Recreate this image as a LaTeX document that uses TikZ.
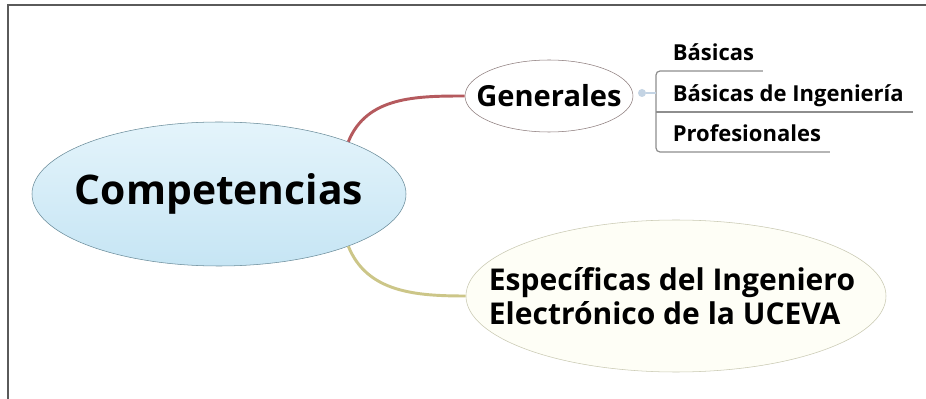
\documentclass[tikz,border=0pt]{standalone}
\usepackage{fontspec}
\setmainfont{Open Sans}
\usetikzlibrary{shapes.geometric}
\definecolor{compline}{HTML}{6A8C9A}
\definecolor{comptop}{HTML}{E4F4FB}
\definecolor{compbot}{HTML}{C6E5F4}
\definecolor{genline}{HTML}{8C7C7C}
\definecolor{espline}{HTML}{C9C9B2}
\definecolor{espfill}{HTML}{FEFEF6}
\definecolor{redline}{HTML}{B55A5E}
\definecolor{yelline}{HTML}{CCC688}
\definecolor{brkline}{HTML}{8E8E8E}
\definecolor{dotcol}{HTML}{C4D4E4}
\definecolor{framecol}{HTML}{5A5A5A}
\begin{document}
\begin{tikzpicture}[x=0.75pt,y=-0.75pt,
    bubble/.style={ellipse,draw,inner sep=0pt},
    txt/.style={font=\bfseries\fontsize{#1}{#1}\selectfont,inner sep=0pt},
    item/.style={font=\bfseries\fontsize{16.5}{18}\selectfont,anchor=south west,
      inner xsep=6.4pt,inner ysep=4.5pt,text height=12pt,text depth=3pt},
    bracket/.style={draw=brkline,line width=0.9pt}]
  \fill[white] (0,0) rectangle (926,399);
  \useasboundingbox (0,0) rectangle (926,399);
  \draw[framecol,line width=1.5pt] (8,399) -- (8,5) -- (926,5);

  \node[bubble,draw=compline,top color=comptop,bottom color=compbot,
    minimum width=280.5pt,minimum height=108pt] (comp) at (219,194) {};
  \node[txt=30.6] (compt) at (comp.center) {Competencias};

  \node[bubble,draw=genline,fill=white,
    minimum width=126pt,minimum height=54pt] (gen) at (549,96) {};
  \node[txt=21.8] (gent) at (gen.center) {Generales};

  \node[bubble,draw=espline,fill=espfill,
    minimum width=315pt,minimum height=114pt] (esp) at (676,296) {};
  \node[inner sep=0pt,align=left,font=\bfseries\fontsize{22.5}{26}\selectfont,xshift=-3pt]
    (espt) at (esp.center) {Específicas del Ingeniero\\Electrónico de la UCEVA};

  \draw[redline,line width=2.2pt] (comp.22) to[out=68,in=180] (gen.west);
  \draw[yelline,line width=2.2pt] (comp.-22) to[out=-68,in=180] (esp.west);

  \coordinate (btop) at (656,71);
  \coordinate (bmid) at (656,112);
  \coordinate (bbot) at (656,152);
  \node[item] (bas) at (664,71) {Básicas};
  \node[item] (basing) at (664,112) {Básicas de Ingeniería};
  \node[item] (prof) at (664,152) {Profesionales};
  \draw[bracket,rounded corners=3pt] (bas.south east) -- (btop) -- (bbot) -- (prof.south east);
  \draw[bracket] (bmid) -- (basing.south east);

  \node[circle,fill=dotcol,inner sep=0pt,minimum size=6pt] (gdot) at (642,93) {};
  \draw[bracket,draw=dotcol] (gdot) -- (gdot -| btop);
\end{tikzpicture}
\end{document}
